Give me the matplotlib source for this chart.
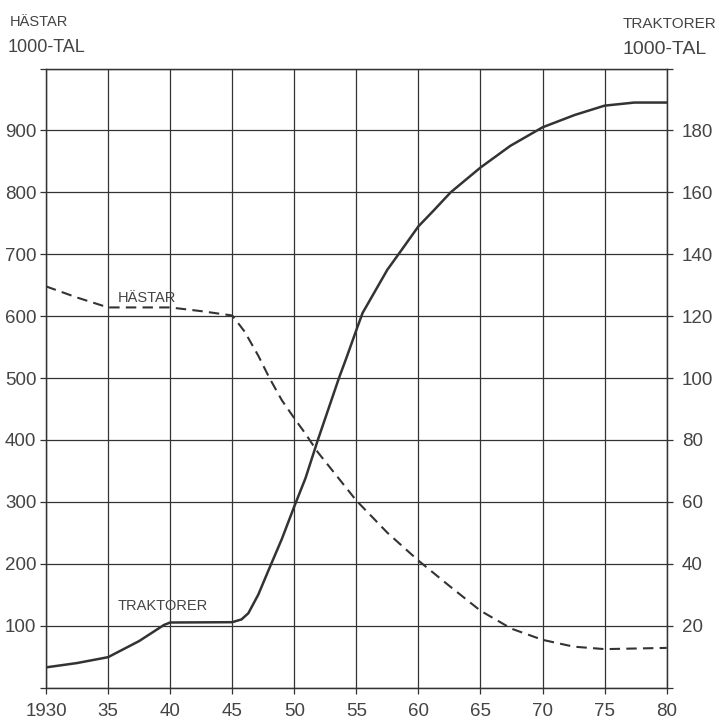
import matplotlib
matplotlib.use('Agg')
from matplotlib import pyplot as plt

plt.rcParams['font.family'] = ['Liberation Sans', 'DejaVu Sans']

# hastar (1000-tal), left axis
horse_years = [1930, 1932.5, 1935, 1940, 1942.5, 1945, 1946, 1947.1, 1948, 1949,
               1950, 1950.9, 1951.9, 1955, 1957.5, 1960, 1962.5, 1965, 1967.5,
               1970, 1972.5, 1975, 1977.5, 1980]
horses = [648, 630, 614, 614, 608, 601, 575, 536, 500, 464,
          435, 410, 380, 302, 250, 205, 164, 124, 95,
          77, 66, 62, 63, 64]

# traktorer (1000-tal), right axis
tractor_years = [1930, 1932.5, 1935, 1937.5, 1939.5, 1940, 1945, 1945.75, 1946.3,
                 1947.1, 1948, 1949, 1950, 1950.9, 1951.9, 1953.6, 1954.2, 1955,
                 1955.5, 1956.5, 1957.5, 1958.4, 1960, 1961.2, 1962.6, 1965,
                 1967.4, 1970, 1972.6, 1975, 1977.4, 1980]
tractors = [6.5, 7.9, 9.8, 15, 20.2, 21, 21.1, 22, 24,
            30, 38.6, 48, 58.5, 67.6, 80, 100, 106.5, 115.5,
            121, 128, 135, 140, 149, 154, 160, 168,
            175, 181, 185, 188, 189, 189]

year_ticks = [1930, 1935, 1940, 1945, 1950, 1955, 1960, 1965, 1970, 1975, 1980]
year_labels = ['1930', '35', '40', '45', '50', '55', '60', '65', '70', '75', '80']
horse_ticks = [0, 100, 200, 300, 400, 500, 600, 700, 800, 900, 1000]
horse_labels = ['', '100', '200', '300', '400', '500', '600', '700', '800', '900', '']
tractor_ticks = [0, 20, 40, 60, 80, 100, 120, 140, 160, 180, 200]
tractor_labels = ['', '20', '40', '60', '80', '100', '120', '140', '160', '180', '']

ink = '#333333'
txt = '#444444'

fig = plt.figure(figsize=(7.19, 7.2), dpi=100)
ax = fig.add_axes([46 / 719, 1 - 687.5 / 720, (666.7 - 46) / 719, (687.5 - 68.5) / 720])
ax2 = ax.twinx()

ax.set_xlim(1930, 1980)
ax.set_ylim(0, 1000)
ax2.set_ylim(0, 200)

ax.set_xticks(year_ticks)
ax.set_xticklabels(year_labels)
ax.set_yticks(horse_ticks)
ax.set_yticklabels(horse_labels)
ax2.set_yticks(tractor_ticks)
ax2.set_yticklabels(tractor_labels)

ax.grid(True, color=ink, linewidth=0.9)
ax.set_axisbelow(True)
for a in (ax, ax2):
    for s in a.spines.values():
        s.set_color(ink)
        s.set_linewidth(0.9)

ax.tick_params(axis='x', length=4, width=0.9, color=ink, labelcolor=txt,
               labelsize=13.5, pad=7)
ax.tick_params(axis='y', length=4, width=0.9, color=ink, labelcolor=txt,
               labelsize=13.5, pad=3)
ax2.tick_params(axis='y', length=4, width=0.9, color=ink, labelcolor=txt,
                labelsize=13.5, pad=7)

ax.plot(horse_years, horses, color=ink, linewidth=1.5, dashes=(5, 3))
ax2.plot(tractor_years, tractors, color=ink, linewidth=1.8)

ax.text(1935.8, 629, 'HÄSTAR', color=txt, fontsize=10.5, va='center')
ax.text(1935.8, 131, 'TRAKTORER', color=txt, fontsize=10.5, va='center')

fig.text(10 / 719, 1 - 22 / 720, 'HÄSTAR', color=txt, fontsize=10.5, va='center')
fig.text(8 / 719, 1 - 47 / 720, '1000-TAL', color=txt, fontsize=13, va='center')
fig.text(623 / 719, 1 - 24 / 720, 'TRAKTORER', color=txt, fontsize=11, va='center')
fig.text(623 / 719, 1 - 50 / 720, '1000-TAL', color=txt, fontsize=14, va='center')

fig.savefig('out.png', dpi=100)
